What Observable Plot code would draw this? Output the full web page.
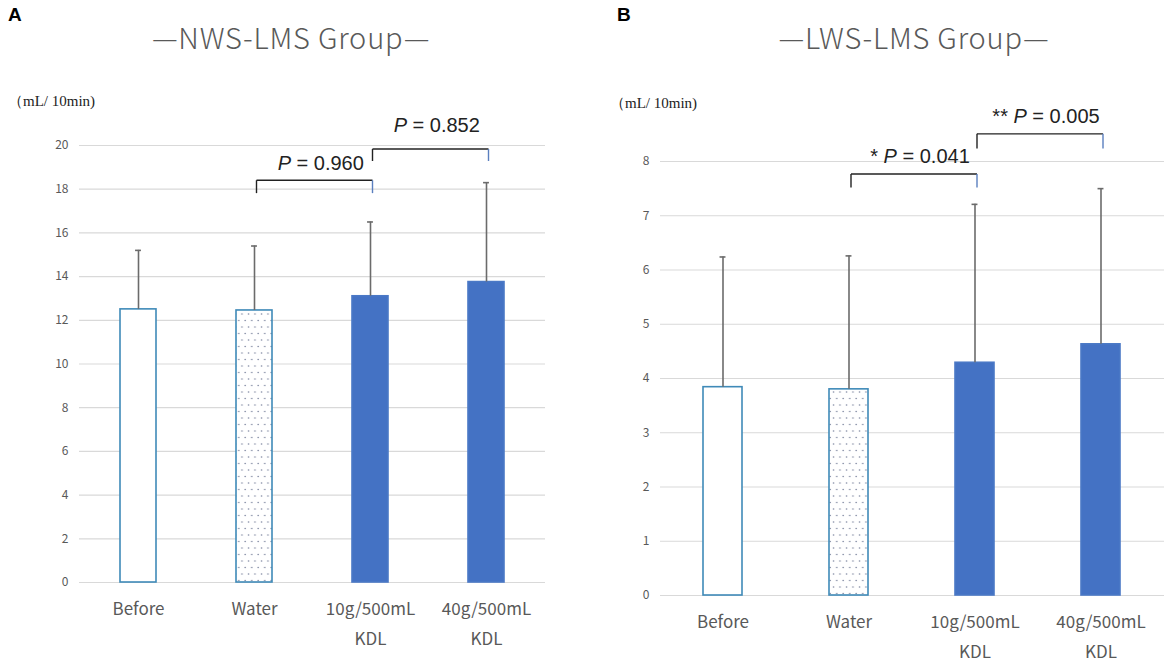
<!DOCTYPE html>
<html>
<head>
<meta charset="utf-8">
<script src="https://cdn.jsdelivr.net/npm/d3@7"></script>
<script src="https://cdn.jsdelivr.net/npm/@observablehq/plot@0.6"></script>
<style>
  html, body { margin: 0; padding: 0; background: #fff; }
  #wrap { position: relative; width: 1170px; height: 666px; overflow: hidden; }
  .panel { position: absolute; top: 0; }
  .letter { position: absolute; font-family: "Liberation Sans", Arial, sans-serif; font-weight: bold; font-size: 19px; color: #000; }
  .title { position: absolute; font-family: "Noto Sans CJK JP", "Noto Sans", sans-serif; font-weight: 300; font-size: 29px; letter-spacing: 0.8px; color: #595959; white-space: nowrap; transform: translate(-50%, -50%); }
  .unit { position: absolute; font-family: "Liberation Serif", "DejaVu Serif", serif; font-size: 15px; color: #222; white-space: nowrap; transform: translateY(-50%); }
</style>
</head>
<body>
<div id="wrap"></div>
<script>
// ---------- data ----------
const categories = ["Before", "Water", "10g/500mL KDL", "40g/500mL KDL"];
const xLabels = ["Before", "Water", "10g/500mL\nKDL", "40g/500mL\nKDL"];

const meanA = [12.5, 12.45, 13.1, 13.75];
const upperA = [15.2, 15.4, 16.5, 18.3];
const yTicksA = [0, 2, 4, 6, 8, 10, 12, 14, 16, 18, 20];

const meanB = [3.84, 3.80, 4.29, 4.63];
const upperB = [6.24, 6.26, 7.21, 7.50];
const yTicksB = [0, 1, 2, 3, 4, 5, 6, 7, 8];

const titleA = "—NWS-LMS Group—";
const titleB = "—LWS-LMS Group—";
const unitLabel = "（mL/ 10min)";

// brackets: from, to, bar y, leg end y, label, label y
const bracketFromA = ["Water", "10g/500mL KDL"];
const bracketToA = ["10g/500mL KDL", "40g/500mL KDL"];
const bracketYA = [18.41, 19.84];
const bracketLegA = [17.82, 19.29];
const bracketLabelA = ["P = 0.960", "P = 0.852"];
const bracketLabelYA = [19.19, 20.93];

const bracketFromB = ["Water", "10g/500mL KDL"];
const bracketToB = ["10g/500mL KDL", "40g/500mL KDL"];
const bracketYB = [7.77, 8.51];
const bracketLegB = [7.52, 8.24];
const bracketLabelB = ["* P = 0.041", "** P = 0.005"];
const bracketLabelYB = [8.09, 8.83];

// ---------- styles ----------
const barFill = {"Before": "white", "Water": "url(#PAT)", "10g/500mL KDL": "#4472c4", "40g/500mL KDL": "#4472c4"};
const barStroke = {"Before": "#3f8ab8", "Water": "#3f8ab8", "10g/500mL KDL": "#4a78c6", "40g/500mL KDL": "#4a78c6"};

const wrap = document.getElementById("wrap");

function panel(opts) {
  const {id, left, width, height, mL, mR, mT, mB, domain, ticks, mean, upper,
         bFrom, bTo, bY, bLeg, bLabel, bLabelY} = opts;
  const n = categories.length;
  const pad = 0.69;
  const step = (width - mL - mR) / n;
  const bw = step * (1 - pad);
  const capHalf = 3;
  const patId = "dots" + id;

  const rows = categories.map((c, i) => ({cat: c, label: xLabels[i], mean: mean[i], upper: upper[i]}));
  const brackets = bFrom.map((f, i) => ({from: f, to: bTo[i], y: bY[i], leg: bLeg[i], label: bLabel[i], ly: bLabelY[i]}));

  const svg = Plot.plot({
    width, height,
    marginLeft: mL, marginRight: mR, marginTop: mT, marginBottom: mB,
    style: {fontFamily: "'Noto Sans CJK JP', 'Noto Sans', sans-serif", fontSize: "12px", color: "#595959", background: "transparent", overflow: "visible"},
    x: {domain: categories, paddingInner: pad, paddingOuter: pad / 2, axis: null},
    y: {domain, ticks, tickSize: 0, tickPadding: 11, label: null, tickFormat: d => String(d)},
    color: {type: "identity"},
    marks: [
      Plot.ruleY(ticks, {stroke: "#d9d9d9", strokeWidth: 1.2}),
      Plot.barY(rows, {x: "cat", y: "mean",
        fill: d => barFill[d.cat].replace("PAT", patId),
        stroke: d => barStroke[d.cat], strokeWidth: 1.6}),
      Plot.ruleX(rows, {x: "cat", y1: "mean", y2: "upper", stroke: "#6b6b6b", strokeWidth: 1.6}),
      Plot.tickY(rows, {x: "cat", y: "upper", stroke: "#6b6b6b", strokeWidth: 1.6,
        insetLeft: bw / 2 - capHalf, insetRight: bw / 2 - capHalf}),
      Plot.text(rows, {x: "cat", text: "label", frameAnchor: "bottom", lineAnchor: "top",
        dy: 11, fontSize: 17, lineHeight: 1.78, fill: "#595959"}),
      // brackets
      Plot.link(brackets, {x1: "from", x2: "to", y1: "y", y2: "y", stroke: "#222", strokeWidth: 1.4, dx: 2}),
      Plot.link(brackets, {x1: "from", x2: "from", y1: "y", y2: "leg", stroke: "#222", strokeWidth: 1.4, dx: 2}),
      Plot.link(brackets, {x1: "to", x2: "to", y1: "y", y2: "leg", stroke: "#5a7fbf", strokeWidth: 1.4, dx: 2}),
      Plot.text(brackets, {x: "from", y: "ly", text: "label", dx: step / 2 + 8,
        fontSize: 20, fill: "#222", fontFamily: "'Liberation Sans', Arial, sans-serif"})
    ]
  });

  // pattern definition for the dotted bar
  const defs = d3.select(svg).insert("defs", ":first-child");
  const pat = defs.append("pattern").attr("id", patId).attr("patternUnits", "userSpaceOnUse")
    .attr("width", 6.5).attr("height", 13);
  pat.append("rect").attr("width", 6.5).attr("height", 13).attr("fill", "white");
  pat.append("circle").attr("cx", 1.5).attr("cy", 2).attr("r", 0.8).attr("fill", "#7d86a0");
  pat.append("circle").attr("cx", 4.75).attr("cy", 8.5).attr("r", 0.8).attr("fill", "#7d86a0");

  // italic P in the annotations
  d3.select(svg).selectAll("text").each(function () {
    const t = this.textContent;
    if (t.includes("P =")) {
      const i = t.indexOf("P");
      const s = d3.select(this);
      s.text(null);
      s.append("tspan").text(t.slice(0, i));
      s.append("tspan").attr("font-style", "italic").text("P");
      s.append("tspan").text(t.slice(i + 1));
    }
  });

  const div = document.createElement("div");
  div.className = "panel";
  div.style.left = left + "px";
  div.appendChild(svg);
  wrap.appendChild(div);
}

panel({id: "A", left: 0, width: 585, height: 666, mL: 79, mR: 40, mT: 145, mB: 84,
  domain: [0, 20], ticks: yTicksA, mean: meanA, upper: upperA,
  bFrom: bracketFromA, bTo: bracketToA, bY: bracketYA, bLeg: bracketLegA, bLabel: bracketLabelA, bLabelY: bracketLabelYA});

panel({id: "B", left: 585, width: 585, height: 666, mL: 75, mR: 6, mT: 161, mB: 71,
  domain: [0, 8], ticks: yTicksB, mean: meanB, upper: upperB,
  bFrom: bracketFromB, bTo: bracketToB, bY: bracketYB, bLeg: bracketLegB, bLabel: bracketLabelB, bLabelY: bracketLabelYB});

function addText(cls, text, x, y) {
  const d = document.createElement("div");
  d.className = cls;
  d.textContent = text;
  d.style.left = x + "px";
  d.style.top = y + "px";
  wrap.appendChild(d);
}
addText("letter", "A", 8, 4);
addText("letter", "B", 617, 4);
addText("title", titleA, 291, 36);
addText("title", titleB, 914, 36);
addText("unit", unitLabel, 8, 101);
addText("unit", unitLabel, 610, 103);
</script>
</body>
</html>
